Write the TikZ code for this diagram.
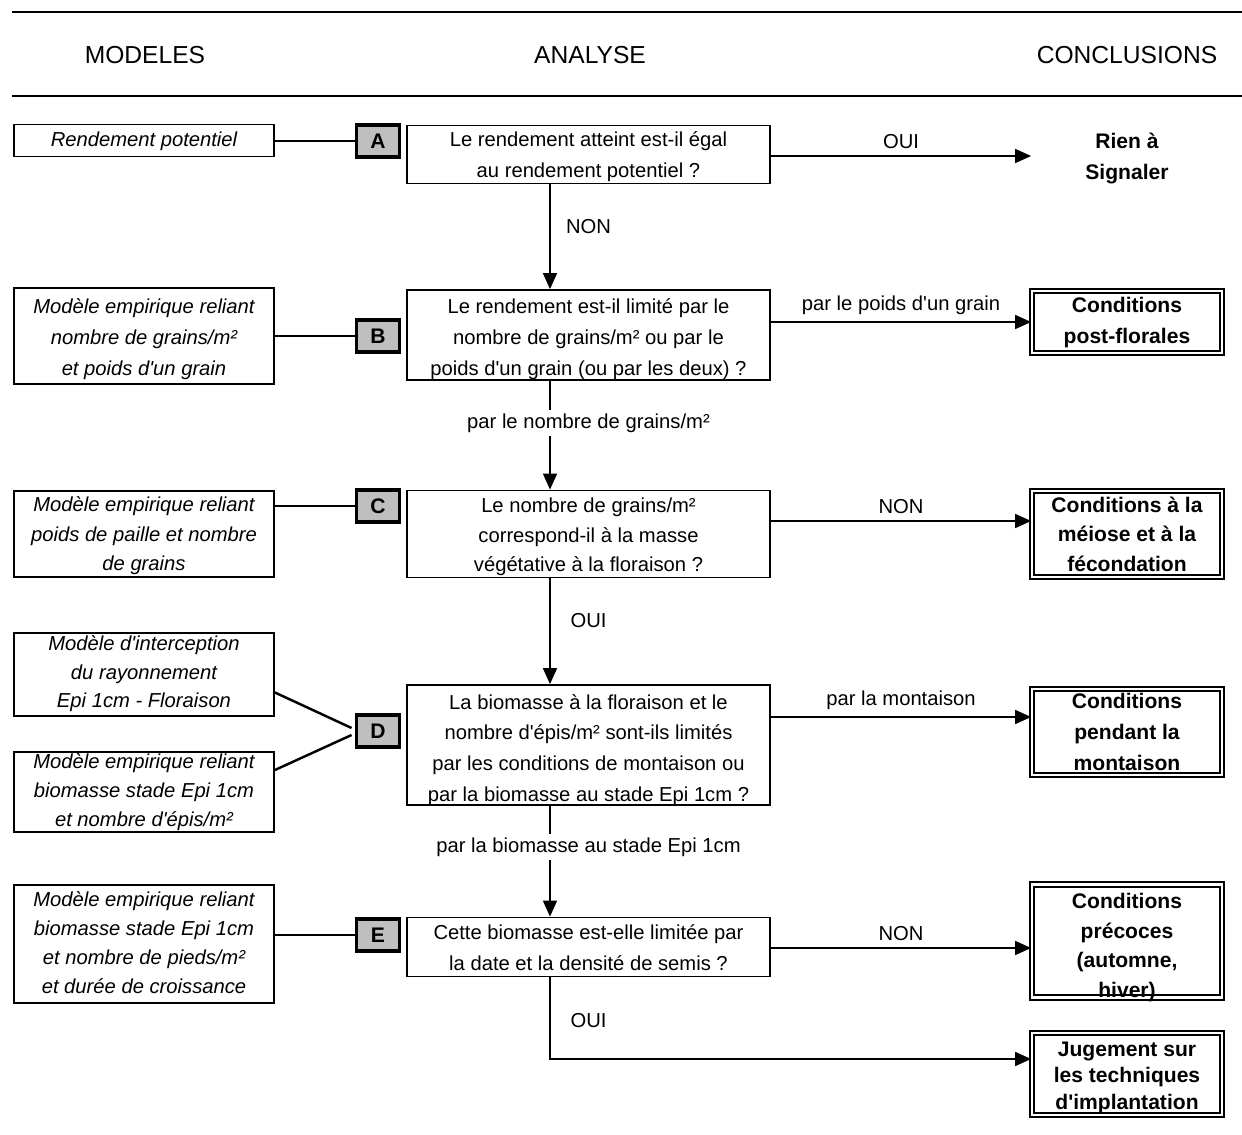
\documentclass[tikz,border=0pt]{standalone}
\usepackage{fontspec}
\setmainfont{Liberation Sans}[Ligatures=TeXOff]
\usepackage{tikz}
\usetikzlibrary{arrows.meta}
\usetikzlibrary{positioning}
\usetikzlibrary{calc}
% lines of a box, set with no size of their own, lowered by #1
\newcommand{\boxtext}[2][-3.8pt]{\raisebox{#1}[0pt][0pt]{\begin{tabular}{@{}c@{}}#2\end{tabular}}}
\tikzset{txt/.style={ % Common look of all texts
           align=center,
           inner sep=0pt,
           font=\fontsize{11.5pt}{17.6pt}\selectfont},
         head/.style={font=\fontsize{14pt}{16pt}\selectfont},
         model/.style={ % Boxes of the left column
           txt, draw, line width=1.1pt,
           minimum width=5.2cm,
           font=\fontsize{11.5pt}{17.6pt}\selectfont\itshape},
         letter/.style={ % Grey tags A..E
           draw, fill=gray!50, line width=2.2pt,
           minimum width=0.86cm, minimum height=0.64cm,
           inner sep=0pt,
           font=\fontsize{12pt}{14pt}\selectfont\bfseries},
         question/.style={ % Boxes of the middle column
           txt, draw, line width=1.1pt,
           minimum width=7.26cm},
         concl/.style={ % Conclusions
           txt, draw, line width=1.1pt,
           double, double distance=1.6pt,
           minimum width=3.8cm,
           font=\fontsize{12pt}{17.6pt}\selectfont\bfseries},
         link/.style={line width=1.4pt},
         arr/.style={-{Triangle[length=9pt,width=8pt]}, line width=0.6pt},
         lbl/.style={txt, fill=white, inner sep=2pt}}

\begin{document}
\begin{tikzpicture}[x=0.02cm, y=-0.02cm]
  \useasboundingbox (0,0) rectangle (1242,1135);

  % headings
  \draw[line width=1.7pt] (12,12) -- (1242,12);
  \draw[line width=1.7pt] (12,96) -- (1242,96);
  \node[head] (hM) at (145,55) {MODELES};
  \node[head] (hA) at (590,55) {ANALYSE};
  \node[head] (hC) at (1127,55) {CONCLUSIONS};

  % models
  \node[model, minimum height=0.64cm] (mA) at (144,140.5) {\boxtext[-2.9pt]{Rendement potentiel}};
  \node[model, minimum height=1.92cm] (mB) at (144,336) {\boxtext[-4.3pt]{Modèle empirique reliant\\nombre de grains/m²\\et poids d'un grain}};
  \node[model, minimum height=1.72cm] (mC) at (144,534) {\def\arraystretch{0.95}\boxtext{Modèle empirique reliant\\poids de paille et nombre\\de grains}};
  \node[model, minimum height=1.66cm] (mD1) at (144,674.5) {\def\arraystretch{0.93}\boxtext[-2.4pt]{Modèle d'interception\\du rayonnement\\Epi 1cm - Floraison}};
  \node[model, minimum height=1.6cm] (mD2) at (144,792) {\def\arraystretch{0.93}\boxtext[-3pt]{Modèle empirique reliant\\biomasse stade Epi 1cm\\et nombre d'épis/m²}};
  \node[model, minimum height=2.36cm] (mE) at (144,944) {\def\arraystretch{0.94}\boxtext[-3pt]{Modèle empirique reliant\\biomasse stade Epi 1cm\\et nombre de pieds/m²\\et durée de croissance}};

  % tags
  \node[letter] (lA) at (378,141) {A};
  \node[letter] (lB) at (378,336) {B};
  \node[letter] (lC) at (378,506) {C};
  \node[letter] (lD) at (378,731) {D};
  \node[letter] (lE) at (378,935) {E};

  % questions
  \node[question, minimum height=1.16cm] (qA) at (588.5,154.5) {\boxtext[-3.5pt]{Le rendement atteint est-il égal\\au rendement potentiel ?}};
  \node[question, minimum height=1.8cm] (qB) at (588.5,335) {\boxtext[-4.8pt]{Le rendement est-il limité par le\\nombre de grains/m² ou par le\\poids d'un grain (ou par les deux) ?}};
  \node[question, minimum height=1.74cm] (qC) at (588.5,534) {\def\arraystretch{0.95}\boxtext[-4.3pt]{Le nombre de grains/m²\\correspond-il à la masse\\végétative à la floraison ?}};
  \node[question, minimum height=2.4cm] (qD) at (588.5,745) {\boxtext[-5.4pt]{La biomasse à la floraison et le\\nombre d'épis/m² sont-ils limités\\par les conditions de montaison ou\\par la biomasse au stade Epi 1cm ?}};
  \node[question, minimum height=1.18cm] (qE) at (588.5,947) {\boxtext{Cette biomasse est-elle limitée par\\la date et la densité de semis ?}};

  % conclusions
  \node[txt, font=\fontsize{12pt}{17.6pt}\selectfont\bfseries] (cA) at (1127,158.5) {Rien à\\Signaler};
  \node[concl, minimum height=1.24cm] (cB) at (1127,322) {\boxtext[-2.9pt]{Conditions\\post-florales}};
  \node[concl, minimum height=1.72cm] (cC) at (1127,534) {\def\arraystretch{0.96}\boxtext[-4pt]{Conditions à la\\méiose et à la\\fécondation}};
  \node[concl, minimum height=1.72cm] (cD) at (1127,732) {\boxtext[-3.8pt]{Conditions\\pendant la\\montaison}};
  \node[concl, minimum height=2.26cm] (cE) at (1127,941) {\def\arraystretch{0.96}\boxtext[-6.4pt]{Conditions\\précoces\\(automne,\\hiver)}};
  \node[concl, minimum height=1.64cm] (cF) at (1127,1074) {\def\arraystretch{0.86}\boxtext[-5pt]{Jugement sur\\les techniques\\d'implantation}};

  % models to tags
  \draw[link] (lA.west -| mA.east) -- (lA.west);
  \draw[link] (lB.west -| mB.east) -- (lB.west);
  \draw[link] (lC.west -| mC.east) -- (lC.west);
  \draw[link] ([yshift=-0.36cm]mD1.east) -- ([shift={(-0.06cm,0.06cm)}]lD.west);
  \draw[link] ([yshift=0.44cm]mD2.east) -- ([shift={(-0.06cm,-0.08cm)}]lD.west);
  \draw[link] (lE.west -| mE.east) -- (lE.west);

  % main column
  \coordinate (col) at (550,0);
  \draw[arr] (col |- qA.south) -- (col |- qB.north);
  \draw[arr] (col |- qB.south) -- (col |- qC.north);
  \draw[arr] (col |- qC.south) -- (col |- qD.north);
  \draw[arr] (col |- qD.south) -- (col |- qE.north);
  \node[lbl] (nA) at ($(qA.south)!0.4!(qB.north)$) {NON};
  \node[lbl] (nB) at ($(qB.south)!0.39!(qC.north)$) {par le nombre de grains/m²};
  \node[lbl] (nC) at ($(qC.south)!0.4!(qD.north)$) {OUI};
  \node[lbl] (nD) at ($(qD.south)!0.37!(qE.north)$) {par la biomasse au stade Epi 1cm};

  % exits to the conclusions
  \coordinate (tA) at ([yshift=-0.03cm]qA.east -| cB.west);
  \coordinate (tC) at ([yshift=0.26cm]cC.west);
  \coordinate (tD) at ([yshift=0.3cm]cD.west);
  \coordinate (tE) at ([yshift=-0.14cm]cE.west);
  \coordinate (tF) at ([yshift=0.3cm]cF.west);
  \draw[arr] (tA -| qA.east) -- node[txt, above=4pt] {OUI} (tA);
  \draw[arr] (cB.west -| qB.east) -- node[txt, above=4pt] {par le poids d'un grain} (cB.west);
  \draw[arr] (tC -| qC.east) -- node[txt, above=4pt] {NON} (tC);
  \draw[arr] (tD -| qD.east) -- node[txt, above=4pt] {par la montaison} (tD);
  \draw[arr] (tE -| qE.east) -- node[txt, above=4pt] {NON} (tE);
  \draw[arr] (col |- qE.south) |- (tF);
  \node[lbl] (nE) at ([yshift=-0.86cm]qE.south) {OUI};
\end{tikzpicture}
\end{document}
